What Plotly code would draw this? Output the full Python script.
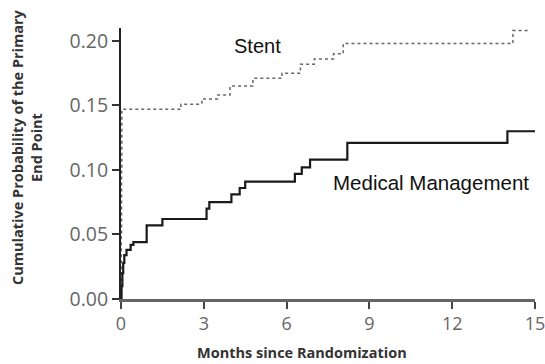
import plotly.graph_objects as go

# Stent (dotted) Kaplan-Meier steps
stent_months = [0, 0.01, 0.02, 0.03, 2.17, 2.93, 3.5, 3.95, 4.78, 5.83, 6.5, 7.0, 7.7, 8.05, 14.2, 14.8]
stent_prob   = [0, 0.05, 0.10, 0.147, 0.151, 0.155, 0.158, 0.165, 0.171, 0.175, 0.182, 0.186, 0.190, 0.198, 0.208, 0.208]

# Medical management (solid) steps
med_months = [0, 0.02, 0.05, 0.08, 0.12, 0.2, 0.35, 0.45, 0.93, 1.5, 3.1, 3.2, 4.0, 4.3, 4.5, 6.3, 6.55, 6.85, 8.2, 14.0, 15.0]
med_prob   = [0, 0.01, 0.02, 0.028, 0.034, 0.038, 0.042, 0.044, 0.057, 0.062, 0.070, 0.075, 0.081, 0.086, 0.091, 0.097, 0.102, 0.108, 0.121, 0.130, 0.130]

x_ticks = [0, 3, 6, 9, 12, 15]
y_ticks = [0.00, 0.05, 0.10, 0.15, 0.20]
y_tick_labels = ["0.00", "0.05", "0.10", "0.15", "0.20"]

ytick_font = dict(family="Open Sans", size=19.5, color="#666")
xtick_font = dict(family="Open Sans", size=18, color="#666")
title_font = dict(family="Open Sans", size=14.5, color="#333")

fig = go.Figure()
fig.add_trace(go.Scatter(x=stent_months, y=stent_prob, mode="lines", line_shape="hv",
                         line=dict(color="#666666", width=1.5, dash="3px,3px"), name="Stent"))
fig.add_trace(go.Scatter(x=med_months, y=med_prob, mode="lines", line_shape="hv",
                         line=dict(color="#1a1a1a", width=2.2), name="Medical Management"))

fig.add_annotation(x=4.96, y=0.196, text="Stent", showarrow=False,
                   font=dict(family="Liberation Sans, Arial", size=20, color="#111"))
fig.add_annotation(x=11.23, y=0.0903, text="Medical Management", showarrow=False,
                   font=dict(family="Liberation Sans, Arial", size=20.5, color="#111"))

# Axis titles
fig.add_annotation(xref="paper", yref="paper", x=0, y=0.561, xshift=-94, textangle=-90,
                   xanchor="center", yanchor="middle",
                   text="<b>Cumulative Probability of the Primary<br>End Point</b>",
                   showarrow=False, font=title_font)
fig.add_annotation(xref="paper", yref="paper", x=0.437, y=-0.199,
                   xanchor="center", yanchor="middle",
                   text="<b>Months since Randomization</b>", showarrow=False, font=title_font)

fig.update_layout(
    width=545, height=364,
    margin=dict(l=121, r=10, t=28, b=65),
    paper_bgcolor="white", plot_bgcolor="white",
    showlegend=False,
    xaxis=dict(range=[0, 15], tickvals=x_ticks, ticks="outside", ticklen=7, tickwidth=1.5,
               tickcolor="#444", showline=True, linecolor="#666", linewidth=2.5, showgrid=False,
               zeroline=False, automargin=False, tickfont=xtick_font, ticklabeloverflow="allow"),
    yaxis=dict(range=[0, 0.21], tickvals=y_ticks, ticktext=y_tick_labels, ticks="outside",
               ticklen=7, tickwidth=1.5, tickcolor="#333", showline=True, linecolor="#222",
               linewidth=2, showgrid=False, zeroline=False, automargin=False, tickfont=ytick_font,
               ticklabeloverflow="allow"),
)

# remove the default page margin so the 545x364 figure fills the window exactly
fig.write_html("out.html", config={"displayModeBar": False},
               post_script="document.body.style.margin='0';document.body.style.overflow='hidden';")
